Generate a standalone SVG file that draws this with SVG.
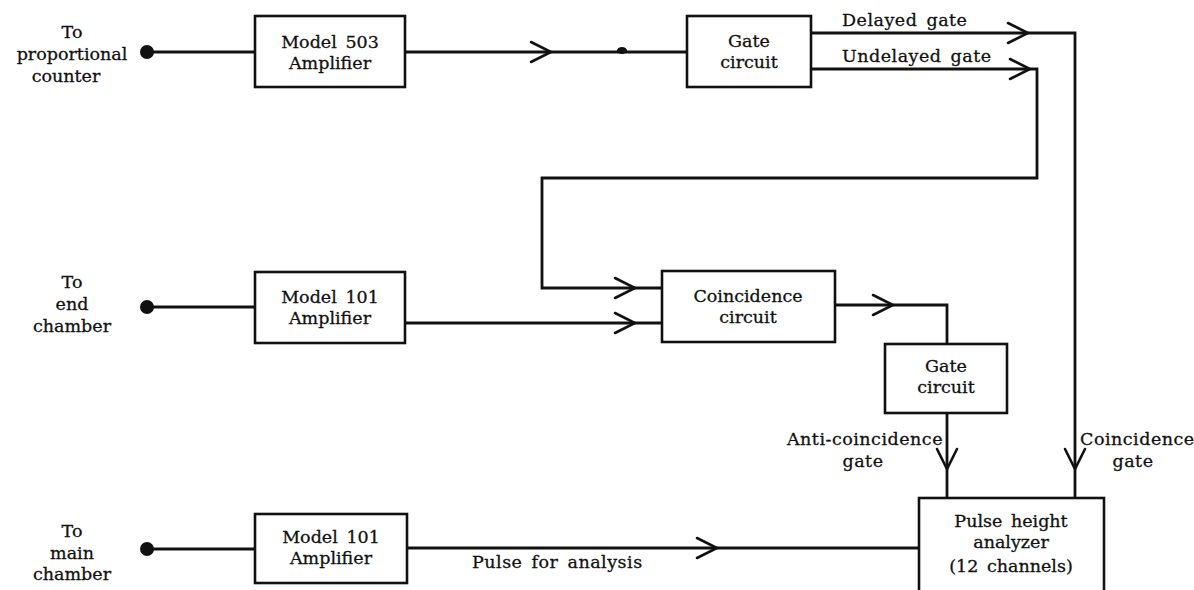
<svg xmlns="http://www.w3.org/2000/svg" width="1194" height="590" viewBox="0 0 1194 590">
<style>
  .box { fill: #fff; stroke: #111; stroke-width: 2.6; }
  .ln { fill: none; stroke: #111; stroke-width: 2.8; stroke-linejoin: miter; }
  .chev { fill: none; stroke: #111; stroke-width: 2.6; stroke-linecap: round; stroke-linejoin: miter; }
  text { font-family: "DejaVu Serif", "Liberation Serif", serif; font-size: 17.5px; fill: #111; stroke: #111; stroke-width: 0.3; word-spacing: 3px; }
  .el text { letter-spacing: 0.5px; }
  .c { text-anchor: middle; }
  .r { text-anchor: end; }
</style>
<defs>
  <path id="chev" d="M-20,-10 L0,0 L-20,10"/>
</defs>
<rect width="1194" height="590" fill="#fff"/>

<g id="connectors">
  <circle cx="147" cy="52" r="7" fill="#111"/>
  <path class="ln" d="M147,52 H255"/>
  <path class="ln" d="M405,52 H687"/>
  <ellipse cx="622" cy="50.5" rx="5" ry="3.5" fill="#111"/>
  <use href="#chev" class="chev" transform="translate(551,52)"/>

  <path class="ln" d="M811,33 H1075 V498"/>
  <use href="#chev" class="chev" transform="translate(1028,33)"/>
  <use href="#chev" class="chev" transform="translate(1075,469) rotate(90)"/>

  <path class="ln" d="M811,69 H1037 V178 H542 V288 H662"/>
  <use href="#chev" class="chev" transform="translate(1030,69)"/>
  <use href="#chev" class="chev" transform="translate(635,288)"/>

  <circle cx="147" cy="307" r="7" fill="#111"/>
  <path class="ln" d="M147,307 H255"/>
  <path class="ln" d="M405,323 H662"/>
  <use href="#chev" class="chev" transform="translate(635,323)"/>

  <path class="ln" d="M835,305 H947 V344"/>
  <use href="#chev" class="chev" transform="translate(893,305)"/>

  <path class="ln" d="M947,413 V498"/>
  <use href="#chev" class="chev" transform="translate(947,469) rotate(90)"/>

  <circle cx="147" cy="549" r="7" fill="#111"/>
  <path class="ln" d="M147,549 H255"/>
  <path class="ln" d="M407,548 H919"/>
  <use href="#chev" class="chev" transform="translate(717,548)"/>
</g>

<g id="label-proportional">
  <text class="c" x="72" y="38">To</text>
  <text class="c" x="72" y="60">proportional</text>
  <text class="c" x="66" y="82">counter</text>
</g>
<g id="label-end">
  <text class="c" x="72" y="288">To</text>
  <text class="c" x="72" y="310">end</text>
  <text class="c" x="72" y="332">chamber</text>
</g>
<g id="label-main">
  <text class="c" x="72" y="537">To</text>
  <text class="c" x="72" y="559">main</text>
  <text class="c" x="72" y="580">chamber</text>
</g>

<g id="amp503">
  <rect class="box" x="255" y="16" width="150" height="71"/>
  <text class="c" x="330" y="48">Model 503</text>
  <text class="c" x="330" y="69">Amplifier</text>
</g>
<g id="gate1">
  <rect class="box" x="687" y="16" width="124" height="71"/>
  <text class="c" x="749" y="47">Gate</text>
  <text class="c" x="749" y="68">circuit</text>
</g>
<g id="amp101a">
  <rect class="box" x="255" y="272" width="150" height="71"/>
  <text class="c" x="330" y="303">Model 101</text>
  <text class="c" x="330" y="324">Amplifier</text>
</g>
<g id="coincidence">
  <rect class="box" x="662" y="271" width="173" height="71"/>
  <text class="c" x="748" y="302">Coincidence</text>
  <text class="c" x="748" y="323">circuit</text>
</g>
<g id="gate2">
  <rect class="box" x="885" y="344" width="122" height="69"/>
  <text class="c" x="946" y="372">Gate</text>
  <text class="c" x="946" y="393">circuit</text>
</g>
<g id="amp101b">
  <rect class="box" x="255" y="514" width="152" height="69"/>
  <text class="c" x="331" y="543">Model 101</text>
  <text class="c" x="331" y="564">Amplifier</text>
</g>
<g id="analyzer">
  <rect class="box" x="919" y="498" width="185" height="110"/>
  <text class="c" x="1011" y="527">Pulse height</text>
  <text class="c" x="1011" y="548">analyzer</text>
  <text class="c" x="1011" y="572">(12 channels)</text>
</g>

<g id="edge-labels" class="el">
  <text x="842" y="26">Delayed gate</text>
  <text x="842" y="62">Undelayed gate</text>
  <text class="r" x="943" y="445">Anti-coincidence</text>
  <text class="c" x="863" y="467">gate</text>
  <text x="1080" y="445">Coincidence</text>
  <text class="c" x="1133" y="467">gate</text>
  <text x="472" y="568">Pulse for analysis</text>
</g>
</svg>
